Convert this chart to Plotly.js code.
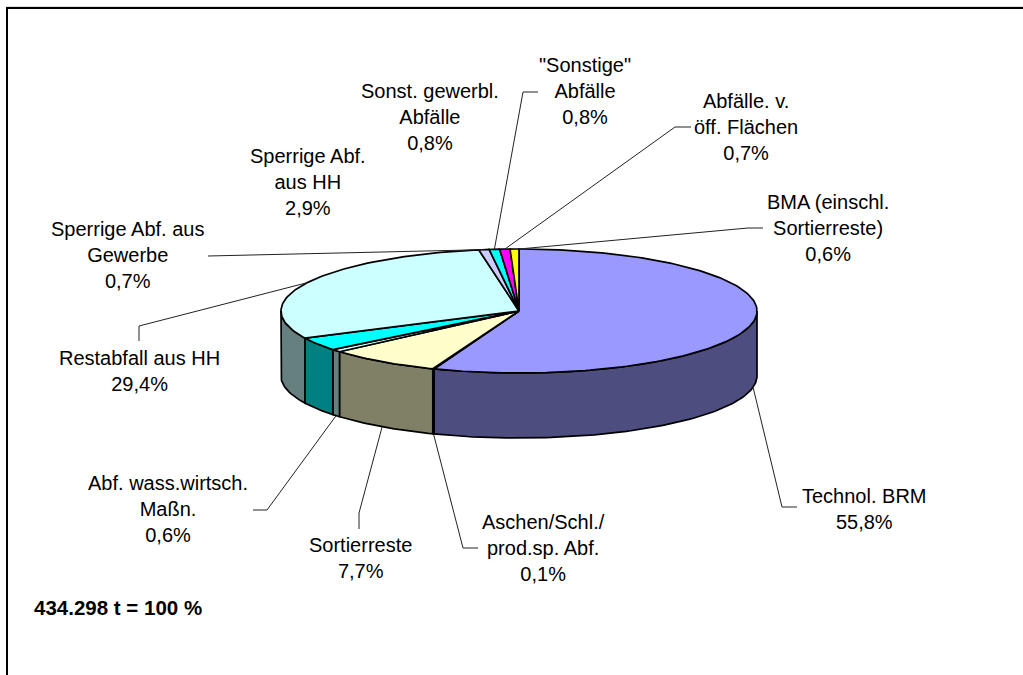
<!DOCTYPE html>
<html><head><meta charset="utf-8">
<script src="https://cdn.plot.ly/plotly-3.0.1.min.js"></script>
<style>html,body{margin:0;padding:0;background:#fff}#c{width:1023px;height:675px}</style></head>
<body><div id="c"></div>
<script>
// Slice shares (percent), clockwise from 12 o'clock
const sliceNames  = ["Technol. BRM","Aschen/Schl./prod.sp. Abf.","Sortierreste","Abf. wass.wirtsch. Maßn.","Sperrige Abf. aus HH","Restabfall aus HH","Sperrige Abf. aus Gewerbe","Sonstige Abfälle","Abfälle v. öff. Flächen","BMA"];
const sliceShares = [55.8,0.1,7.7,0.7,3.5,29.5,0.7,0.7,0.7,0.6];
const topColors   = ["#9999FF","#993366","#FFFFCC","#CCFFFF","#00FFFF","#CCFFFF","#CCCCFF","#00FFFF","#FF00FF","#FFFF00"];
const sideColors  = ["#4D4D80","#4D1A33","#808066","#668080","#008080","#668080","#666680","#008080","#800080","#808000"];

// Data labels
const labelTexts = ["Technol. BRM<br>55,8%","Aschen/Schl./<br>prod.sp. Abf.<br>0,1%","Sortierreste<br>7,7%","Abf. wass.wirtsch.<br>Maßn.<br>0,6%","Restabfall aus HH<br>29,4%","Sperrige Abf. aus<br>Gewerbe<br>0,7%","Sperrige Abf.<br>aus HH<br>2,9%","Sonst. gewerbl.<br>Abfälle<br>0,8%","\"Sonstige\"<br>Abfälle<br>0,8%","Abfälle. v.<br>öff. Flächen<br>0,7%","BMA (einschl.<br>Sortierreste)<br>0,6%"];
const labelX = [864,543,360,168,139,127,308,430,585,746,828];
const labelY = [509,548,558,509,371,255,182,117,91,127,228];

// Leader lines: share position on the rim, then knee and label end
const leaderShare = [27.9,55.85,59.75,63.95,82.55,97.65,98.35,99.05,100];
const leaderKneeX = [782,463,359,267,139,225,523,675,748];
const leaderKneeY = [507,548,513,510,326,255,92,127,228];
const leaderEndX  = [797,478,359,253,139,208,538,691,763];
const leaderEndY  = [507,548,529,510,341,256,92,127,228];

const totalText = "<b>434.298 t = 100 %</b>";

// Pie geometry (ellipse in page coordinates)
const cx=519, cy=311, rx=238, ry=62, depth=65, edge=1.7;
const P=s=>{const t=s/100*2*Math.PI;return [cx+rx*Math.sin(t),cy-ry*Math.cos(t)];};
function arc(a,b,dy){const xs=[],ys=[],n=Math.max(2,Math.ceil((b-a)*3));
  for(let i=0;i<=n;i++){const p=P(a+(b-a)*i/n);xs.push(p[0]);ys.push(p[1]+dy);}return [xs,ys];}

const traces=[];
const poly=(x,y,c,w)=>({type:"scatter",mode:"lines",x,y,fill:"toself",fillcolor:c,
  line:{color:"#000",width:w,shape:"linear"},hoverinfo:"skip",showlegend:false});
let cum=0; const starts=sliceShares.map(v=>{const s=cum;cum+=v;return s;});

// side walls (visible on the front half only, 25%..75% of the turn)
sliceShares.forEach((v,i)=>{
  const a=Math.max(starts[i],25), b=Math.min(starts[i]+v,75);
  if(b<=a) return;
  const t=arc(a,b,0), u=arc(a,b,depth);
  traces.push(poly(t[0].concat(u[0].slice().reverse(),[t[0][0]]),t[1].concat(u[1].slice().reverse(),[t[1][0]]),sideColors[i],edge));
});
// top faces
sliceShares.forEach((v,i)=>{
  const t=arc(starts[i],starts[i]+v,0);
  traces.push(poly([cx].concat(t[0],[cx]),[cy].concat(t[1],[cy]),topColors[i],edge));
});
// leaders, anchored on the visible rim
leaderShare.forEach((s,i)=>{
  const p=P(s), front=s>25&&s<75;
  traces.push({type:"scatter",mode:"lines",x:[p[0],leaderKneeX[i],leaderEndX[i]],y:[p[1]+(front?depth:0),leaderKneeY[i],leaderEndY[i]],
    line:{color:"#222",width:1},hoverinfo:"skip",showlegend:false});
});

const font={family:"Liberation Sans, Arial, sans-serif",size:20,color:"#000"};
const annotations=labelTexts.map((t,i)=>({text:t,x:labelX[i],y:labelY[i],xref:"x",yref:"y",showarrow:false,align:"center",xanchor:"center",yanchor:"middle",font}));
annotations.push({text:totalText,x:32,y:607,xref:"x",yref:"y",showarrow:false,xanchor:"left",yanchor:"middle",font:{...font,size:20.5}});

const layout={width:1023,height:675,margin:{l:0,r:0,t:0,b:0},paper_bgcolor:"#fff",plot_bgcolor:"#fff",showlegend:false,
  xaxis:{range:[0,1023],visible:false,fixedrange:true},yaxis:{range:[675,0],visible:false,fixedrange:true},
  annotations,
  shapes:[
   {type:"line",xref:"x",yref:"y",x0:6,x1:1023,y0:6.5,y1:6.5,line:{color:"#ddd",width:1}},
   {type:"line",xref:"x",yref:"y",x0:6,x1:1023,y0:8,y1:8,line:{color:"#000",width:2}},
   {type:"line",xref:"x",yref:"y",x0:7,x1:7,y0:7,y1:675,line:{color:"#000",width:2}}]};
Plotly.newPlot("c",traces,layout,{displayModeBar:false,staticPlot:true});
</script></body></html>
